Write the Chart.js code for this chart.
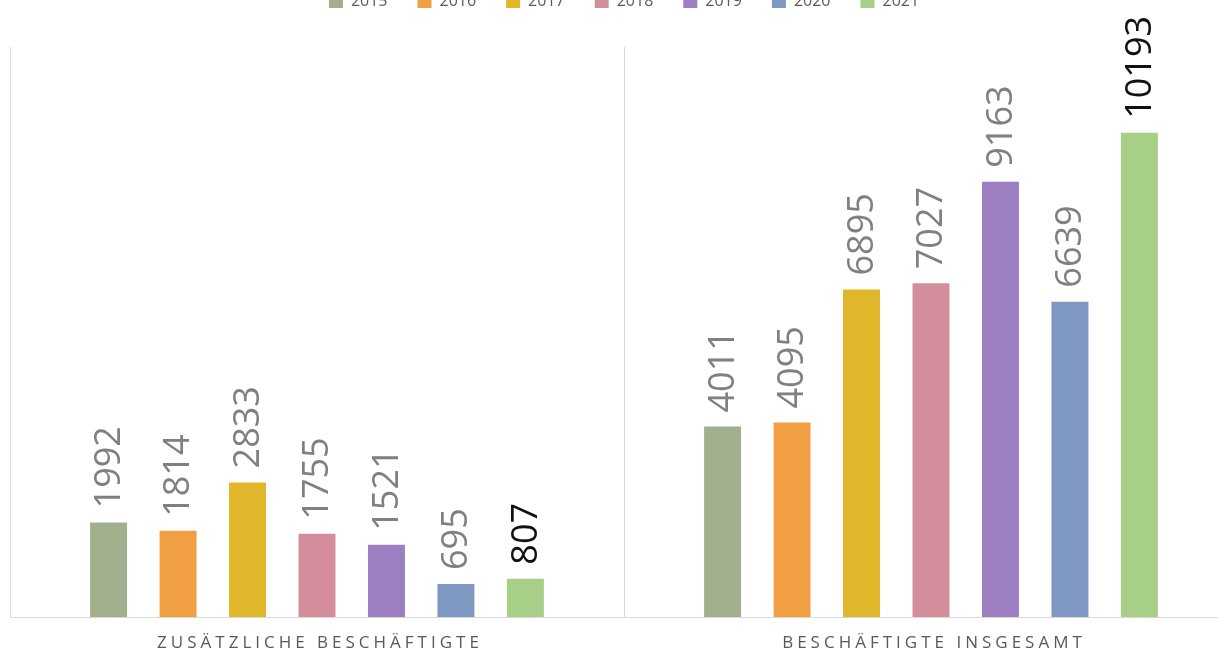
<!DOCTYPE html>
<html>
<head>
<meta charset="utf-8">
<script src="https://cdn.jsdelivr.net/npm/chart.js@4/dist/chart.umd.min.js"></script>
<style>
  html, body { margin: 0; padding: 0; background: #fff; overflow: hidden; }
  #wrap { position: absolute; left: 0; top: -37px; width: 1248px; height: 693px; }
</style>
</head>
<body>
<div id="wrap"><canvas id="chart"></canvas></div>
<script>
    "use strict";

    // Data
    var categories = ["ZUSÄTZLICHE BESCHÄFTIGTE", "BESCHÄFTIGTE INSGESAMT"];
    var years = ["2015", "2016", "2017", "2018", "2019", "2020", "2021"];
    var v2015 = [1992, 4011];
    var v2016 = [1814, 4095];
    var v2017 = [2833, 6895];
    var v2018 = [1755, 7027];
    var v2019 = [1521, 9163];
    var v2020 = [695, 6639];
    var v2021 = [807, 10193];
    var yMax = 12000;

    var colors = ["#a2af8d", "#f0a042", "#e0b72a", "#d48e9b", "#9b7fc1", "#7e98c1", "#a8cf88"];
    var series = [v2015, v2016, v2017, v2018, v2019, v2020, v2021];

    var datasets = years.map(function (y, i) {
        return {
            label: y,
            data: series[i],
            backgroundColor: colors[i],
            categoryPercentage: 0.792,
            barPercentage: 0.532
        };
    });

    // Extra space under the legend
    var legendGap = {
        id: "legendGap",
        beforeInit: function (chart) {
            var fit = chart.legend.fit;
            chart.legend.fit = function () {
                fit.bind(chart.legend)();
                this.height += 28;
            };
        }
    };

    // Rotated value labels above the bars
    var valueLabels = {
        id: "valueLabels",
        afterDatasetsDraw: function (chart) {
            var ctx = chart.ctx;
            chart.data.datasets.forEach(function (ds, i) {
                var meta = chart.getDatasetMeta(i);
                meta.data.forEach(function (bar, j) {
                    ctx.save();
                    ctx.translate(bar.x + 1, bar.y - 14);
                    ctx.rotate(-Math.PI / 2);
                    ctx.font = "36px 'Open Sans'";
                    ctx.fillStyle = i === chart.data.datasets.length - 1 ? "#111" : "#808080";
                    ctx.textAlign = "left";
                    ctx.textBaseline = "middle";
                    ctx.fillText(String(ds.data[j]), 0, 0);
                    ctx.restore();
                });
            });
        }
    };

    // Category names under the axis, with letter spacing
    var categoryLabels = {
        id: "categoryLabels",
        afterDraw: function (chart) {
            var ctx = chart.ctx;
            var xs = chart.scales.x;
            ctx.save();
            ctx.font = "17px 'Open Sans'";
            ctx.fillStyle = "#595959";
            ctx.textAlign = "center";
            ctx.textBaseline = "middle";
            ctx.letterSpacing = "4px";
            categories.forEach(function (c, i) {
                ctx.fillText(c, xs.getPixelForTick(i) + 3, chart.chartArea.bottom + 26);
            });
            ctx.restore();
        }
    };

    var ctx1 = document.getElementById("chart").getContext("2d");
    var myChart = new Chart(ctx1, {
        type: "bar",
        data: { labels: categories, datasets: datasets },
        options: {
            responsive: true,
            maintainAspectRatio: false,
            animation: false,
            layout: { padding: { left: 10, right: 10, top: 0, bottom: 39 } },
            plugins: {
                legend: {
                    position: "top",
                    labels: {
                        boxWidth: 14,
                        boxHeight: 14,
                        color: "#595959",
                        font: { family: "'Open Sans'", size: 16 },
                        padding: 30
                    }
                },
                tooltip: { enabled: false }
            },
            scales: {
                x: {
                    grid: { display: true, color: "#d9d9d9", drawTicks: false, offset: true },
                    border: { display: true, color: "#d9d9d9" },
                    ticks: { display: false }
                },
                y: {
                    min: 0,
                    max: yMax,
                    display: false,
                    grid: { display: false }
                }
            }
        },
        plugins: [legendGap, valueLabels, categoryLabels]
    });
</script>
</body>
</html>
